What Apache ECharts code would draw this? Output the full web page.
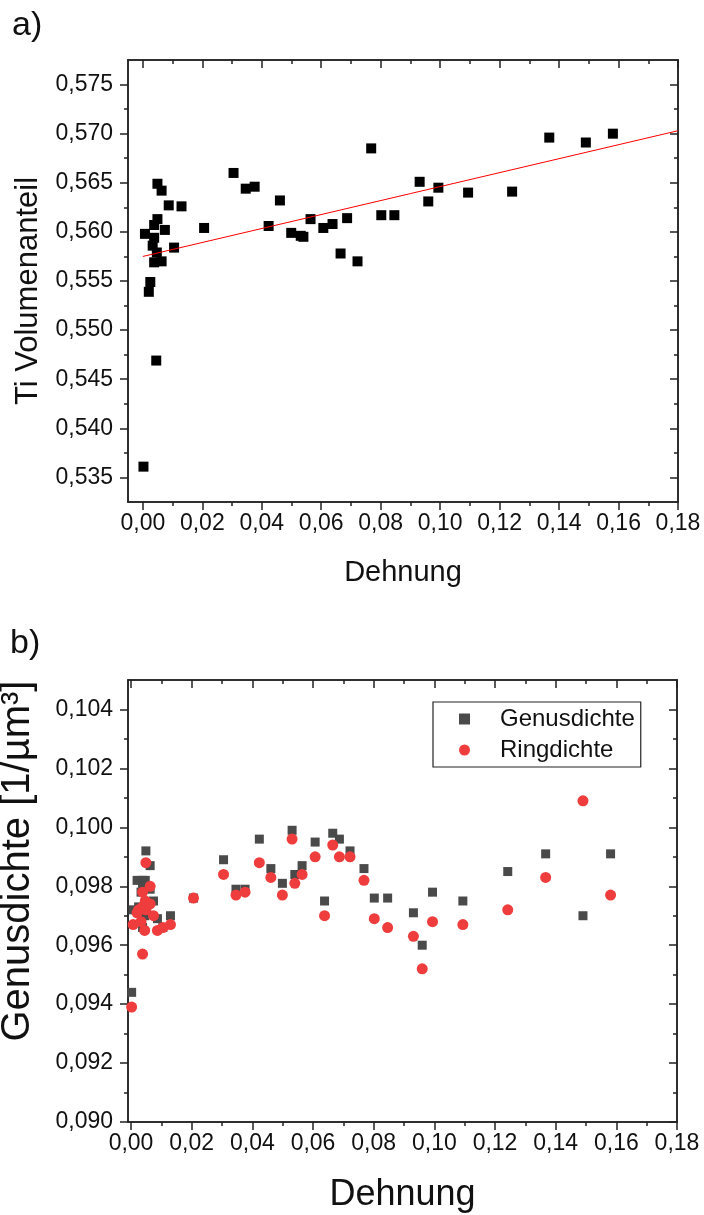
<!DOCTYPE html>
<html>
<head>
<meta charset="utf-8">
<script src="https://cdn.jsdelivr.net/npm/echarts@6/dist/echarts.min.js"></script>
<style>
  html, body { margin: 0; padding: 0; background: #fff; }
  #chart { width: 704px; height: 1215px; }
</style>
</head>
<body>
<div id="chart"></div>
<script>
// Dehnung je Probe (gleiche Proben in a) und b))
var dehnung = [0.0002, 0.0045, 0.0020, 0.0025, 0.0007, 0.0038, 0.0038, 0.0033, 0.0047, 0.0038,
  0.0063, 0.0049, 0.0049, 0.0063, 0.0074, 0.0087, 0.0130, 0.0105, 0.0206, 0.0305,
  0.0346, 0.0376, 0.0461, 0.0423, 0.0499, 0.0531, 0.0540, 0.0564, 0.0607, 0.0638,
  0.0687, 0.0665, 0.0722, 0.0768, 0.0802, 0.0846, 0.0931, 0.0960, 0.0994, 0.1094,
  0.1242, 0.1367, 0.1490, 0.1581]
var tiVolumenanteil = [0.5361, 0.5469, 0.5539, 0.5549, 0.5598, 0.5607, 0.5594, 0.5586, 0.5579, 0.5569,
  0.5570, 0.5613, 0.5649, 0.5642, 0.5602, 0.5627, 0.5626, 0.5584, 0.5604, 0.5660,
  0.5644, 0.5646, 0.5632, 0.5606, 0.5599, 0.5596, 0.5595, 0.5613, 0.5604, 0.5608,
  0.5614, 0.5578, 0.5570, 0.5685, 0.5617, 0.5617, 0.5651, 0.5631, 0.5645, 0.5640,
  0.5641, 0.5696, 0.5691, 0.5700]
var genusdichte = [0.0944, 0.0970, 0.0982, 0.0973, 0.0972, 0.0982, 0.0980, 0.0978, 0.0982, 0.0966,
  0.0987, 0.0992, 0.0974, 0.0979, 0.0975, 0.0969, 0.0970, 0.0966, 0.0976, 0.0989,
  0.0979, 0.0979, 0.0986, 0.0996, 0.0981, 0.0999, 0.0984, 0.0987, 0.0995, 0.0975,
  0.0996, 0.0998, 0.0992, 0.0986, 0.0976, 0.0976, 0.0971, 0.0960, 0.0978, 0.0975,
  0.0985, 0.0991, 0.0970, 0.0991]
var ringdichte = [0.0939, 0.0965, 0.0971, 0.0972, 0.0967, 0.0973, 0.0978, 0.0968, 0.0975, 0.0957,
  0.0980, 0.0988, 0.0972, 0.0974, 0.0970, 0.0965, 0.0967, 0.0966, 0.0976, 0.0984,
  0.0977, 0.0978, 0.0983, 0.0988, 0.0977, 0.0996, 0.0981, 0.0984, 0.0990, 0.0970,
  0.0990, 0.0994, 0.0990, 0.0982, 0.0969, 0.0966, 0.0963, 0.0952, 0.0968, 0.0967,
  0.0972, 0.0983, 0.1009, 0.0977]
// lineare Anpassung (rote Linie)
var fitX = [0, 0.18]
var fitY = [0.5575, 0.5703]

// Achsenteilung
var xTicks = [0, 0.02, 0.04, 0.06, 0.08, 0.10, 0.12, 0.14, 0.16, 0.18]
var xMinor = [0.01, 0.03, 0.05, 0.07, 0.09, 0.11, 0.13, 0.15, 0.17]
var tiTicks = [0.535, 0.540, 0.545, 0.550, 0.555, 0.560, 0.565, 0.570, 0.575]
var tiMinor = [0.5375, 0.5425, 0.5475, 0.5525, 0.5575, 0.5625, 0.5675, 0.5725]
var dichteTicks = [0.090, 0.092, 0.094, 0.096, 0.098, 0.100, 0.102, 0.104]
var dichteMinor = [0.091, 0.093, 0.095, 0.097, 0.099, 0.101, 0.103]

var FONT = 'Liberation Sans, Arial, sans-serif'
var LINE = '#222'

function zip (xs, ys) {
  return xs.map(function (x, i) { return [x, ys[i]] })
}
function komma (digits) {
  return function (v) { return v.toFixed(digits).replace('.', ',') }
}

// eine Achse: Linie + Striche (+ evtl. Beschriftung)
function makeAxis (gridIndex, position, min, max, ticks, len, inside, fmt, margin, name, nameGap, nameSize, namePad) {
  var a = {
    type: 'value',
    gridIndex: gridIndex,
    position: position,
    min: min,
    max: max,
    axisLine: { show: true, onZero: false, lineStyle: { color: LINE, width: 1.5 } },
    axisTick: { show: true, inside: inside, length: len, customValues: ticks, lineStyle: { color: LINE, width: 1.5 } },
    axisLabel: { show: false },
    splitLine: { show: false },
  }
  if (fmt) {
    a.axisLabel = {
      show: true,
      customValues: ticks,
      formatter: fmt,
      color: '#111',
      fontSize: 23,
      fontFamily: FONT,
      margin: margin,
    }
  }
  if (name) {
    a.name = name
    a.nameLocation = 'middle'
    a.nameGap = nameGap
    a.nameTextStyle = { color: '#111', fontSize: nameSize, fontFamily: FONT, padding: namePad || 0 }
  }
  return a
}

function xAxesFor (g, min, max, name, gap, size) {
  return [
    makeAxis(g, 'bottom', min, max, xTicks, 8, false, komma(2), 10, name, gap, size),
    makeAxis(g, 'bottom', min, max, xMinor, 4, false),
    makeAxis(g, 'top', min, max, xTicks, 8, true),
    makeAxis(g, 'top', min, max, xMinor, 4, true),
  ]
}
function yAxesFor (g, min, max, ticks, minor, name, gap, size, pad) {
  return [
    makeAxis(g, 'left', min, max, ticks, 8, false, komma(3), 15, name, gap, size, pad),
    makeAxis(g, 'left', min, max, minor, 4, false),
    makeAxis(g, 'right', min, max, ticks, 8, true),
    makeAxis(g, 'right', min, max, minor, 4, true),
  ]
}

var chart = echarts.init(document.getElementById('chart'))
var option = {
  animation: false,
  backgroundColor: '#fff',
  textStyle: { fontFamily: FONT },
  grid: [
    { left: 128, right: 26, top: 60, height: 442, outerBoundsMode: 'none', containLabel: false },
    { left: 128, right: 27, top: 680, height: 442, outerBoundsMode: 'none', containLabel: false },
  ],
  xAxis: [].concat(
    xAxesFor(0, -0.005, 0.18, 'Dehnung', 56, 29),
    xAxesFor(1, -0.001, 0.18, 'Dehnung', 55, 36)
  ),
  yAxis: [].concat(
    yAxesFor(0, 0.5325, 0.5775, tiTicks, tiMinor, 'Ti Volumenanteil', 84, 31, [0, 20, 0, 0]),
    yAxesFor(1, 0.090, 0.105, dichteTicks, dichteMinor, 'Genusdichte [1/µm³]', 90, 40, [0, 0, 0, 80])
  ),
  legend: {
    orient: 'vertical',
    left: 433,
    top: 702,
    padding: [5, 6, 5, 26],
    itemGap: 7,
    itemWidth: 11,
    itemHeight: 11,
    borderColor: LINE,
    borderWidth: 1.2,
    textStyle: { color: '#111', fontSize: 24, fontFamily: FONT, lineHeight: 24, padding: [0, 0, 0, 25] },
    data: [
      { name: 'Genusdichte', icon: 'rect' },
      { name: 'Ringdichte', icon: 'circle' },
    ],
  },
  graphic: [
    { type: 'text', left: 12, top: 9, style: { text: 'a)', fontSize: 34, fontFamily: FONT, fill: '#111' } },
    { type: 'text', left: 10, top: 627, style: { text: 'b)', fontSize: 34, fontFamily: FONT, fill: '#111' } },
  ],
  series: [
    {
      name: 'Ti Volumenanteil',
      type: 'scatter',
      xAxisIndex: 0,
      yAxisIndex: 0,
      symbol: 'rect',
      symbolSize: 10,
      itemStyle: { color: '#000', opacity: 1 },
      data: zip(dehnung, tiVolumenanteil),
    },
    {
      name: 'Fit',
      type: 'line',
      xAxisIndex: 0,
      yAxisIndex: 0,
      showSymbol: false,
      z: 5,
      lineStyle: { color: '#ff0000', width: 1 },
      data: zip(fitX, fitY),
    },
    {
      name: 'Genusdichte',
      type: 'scatter',
      xAxisIndex: 4,
      yAxisIndex: 4,
      symbol: 'rect',
      symbolSize: 9,
      itemStyle: { color: '#4a4a4a', opacity: 1 },
      data: zip(dehnung, genusdichte),
    },
    {
      name: 'Ringdichte',
      type: 'scatter',
      xAxisIndex: 4,
      yAxisIndex: 4,
      symbol: 'circle',
      symbolSize: 11,
      z: 3,
      itemStyle: { color: '#ef3c3c', opacity: 1 },
      data: zip(dehnung, ringdichte),
    },
  ],
}
chart.setOption(option)
</script>
</body>
</html>
